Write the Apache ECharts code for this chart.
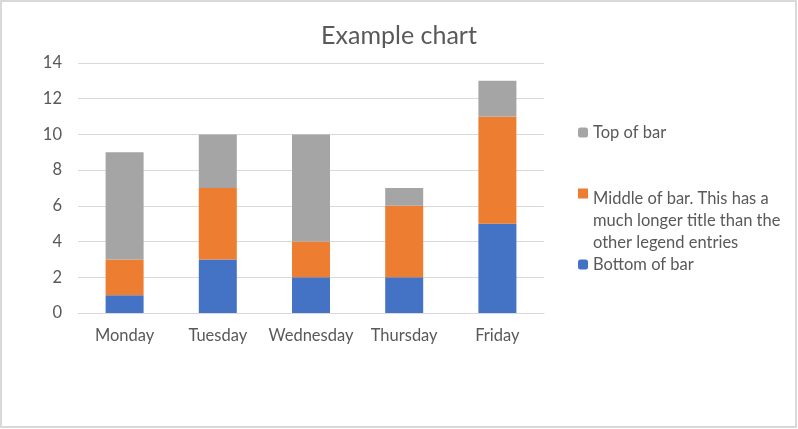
<!DOCTYPE html>
<html><head><meta charset="utf-8">
<script src="https://cdn.jsdelivr.net/npm/echarts@6/dist/echarts.min.js"></script>
<style>html,body{margin:0;padding:0;background:#fff}#c{width:798px;height:429px}</style>
</head><body><div id="c"></div>
<script>
const categories = ['Monday','Tuesday','Wednesday','Thursday','Friday'];
const bottomVals = [1,3,2,2,5];
const middleVals = [2,4,2,4,6];
const topVals = [6,3,6,1,2];
const yTicks = {min:0,max:14,interval:2};
const names = ['Bottom of bar','Middle of bar. This has a much longer title than the other legend entries','Top of bar'];
const colors = ['#4472C4','#ED7D31','#A5A5A5'];
const FONT = 'Lato';
const txt = '#595959';
const FS = 16.5;
const chart = echarts.init(document.getElementById('c'));
const legendBase = {orient:'vertical',left:573,itemWidth:10,itemHeight:10,textStyle:{color:txt,fontSize:FS,fontFamily:FONT},selectedMode:false};
chart.setOption({
  animation:false,
  title:{text:'Example chart',left:'center',top:18,textStyle:{color:txt,fontSize:25,fontWeight:'normal',fontFamily:FONT}},
  graphic:[{type:'rect',shape:{x:1,y:1,width:795,height:426},style:{fill:'none',stroke:'#d9d9d9',lineWidth:2},silent:true}],
  grid:{left:78,right:254,top:63,bottom:116},
  xAxis:{type:'category',data:categories,axisTick:{show:false},axisLine:{lineStyle:{color:'#d9d9d9'}},
    axisLabel:{color:txt,fontSize:FS,fontFamily:FONT,margin:14,interval:0}},
  yAxis:{type:'value',min:yTicks.min,max:yTicks.max,interval:yTicks.interval,axisLine:{show:false},axisTick:{show:false},
    splitLine:{lineStyle:{color:'#d9d9d9',width:1}},axisLabel:{color:txt,fontSize:FS,fontFamily:FONT,margin:16}},
  legend:[
    Object.assign({},legendBase,{top:119,data:[names[2]]}),
    Object.assign({},legendBase,{top:183,data:[{name:names[1],icon:'path://M0,0h10v10h-10zM0,65h0.01v0.01h-0.01z'}],itemHeight:66,
      formatter:()=> 'Middle of bar. This has a\nmuch longer title than the\nother legend entries',
      textStyle:{color:txt,fontSize:FS,fontFamily:FONT,lineHeight:22}}),
    Object.assign({},legendBase,{top:251,data:[names[0]]})
  ],
  series:[
    {name:names[0],type:'bar',stack:'s',data:bottomVals,barWidth:38,itemStyle:{color:colors[0]}},
    {name:names[1],type:'bar',stack:'s',data:middleVals,barWidth:38,itemStyle:{color:colors[1]}},
    {name:names[2],type:'bar',stack:'s',data:topVals,barWidth:38,itemStyle:{color:colors[2]}}
  ]
});
</script></body></html>
